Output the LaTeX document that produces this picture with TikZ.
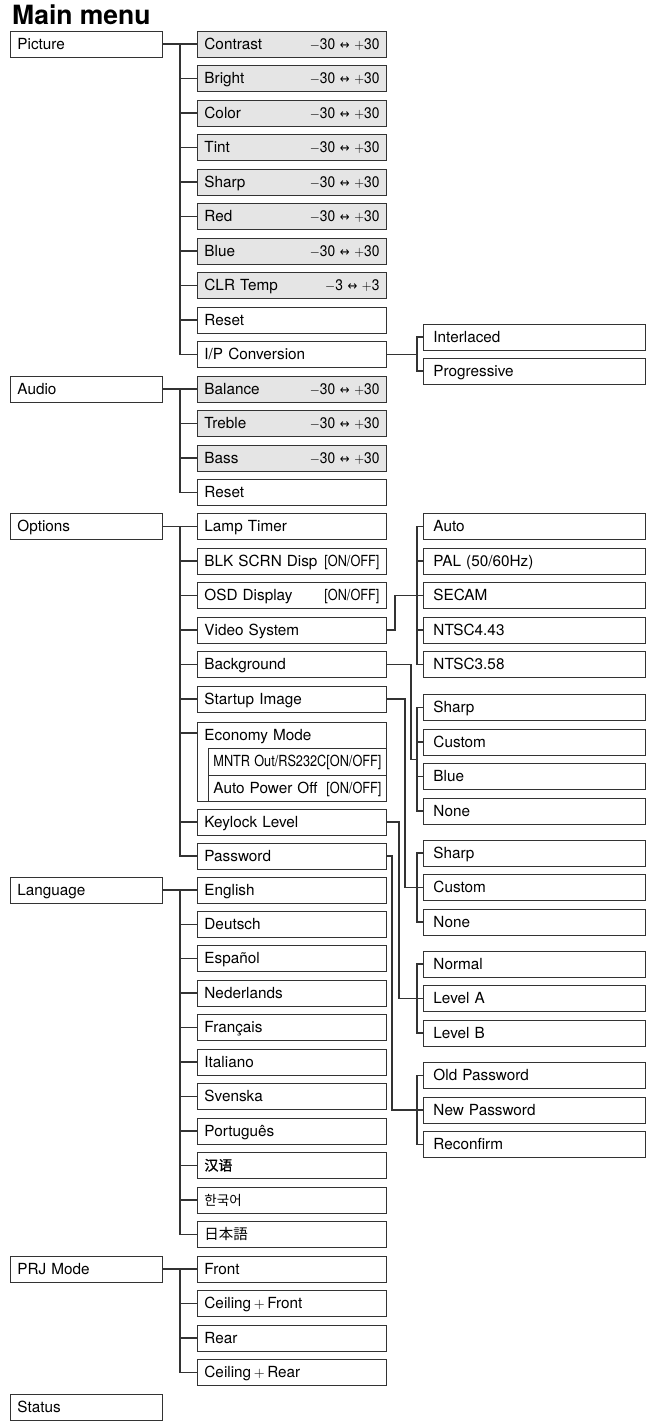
\documentclass[tikz,border=0pt]{standalone}
\usepackage{fontspec}
\setmainfont{TeX Gyre Heros}
\newfontfamily\arrowfont{DejaVu Sans}
\newfontfamily\cjksc[FakeBold=1.2]{Noto Sans CJK SC}
\newfontfamily\cjkkr{Noto Sans CJK KR}
\newfontfamily\cjkjp{Noto Sans CJK JP}
\usepackage{graphicx}
\usepackage{xcolor}
\usetikzlibrary{calc, positioning}

\definecolor{boxgray}{gray}{0.9}
\definecolor{linegray}{gray}{0.2}
\newcommand{\rng}[1]{\hfill\scalebox{0.9}[1]{$-$#1 {\arrowfont\fontsize{13}{13}\selectfont ↔} $+$#1}}
\newcommand{\onoff}{\hfill\scalebox{0.83}[1]{[ON/OFF]}}

\tikzset{
    box/.style={draw=linegray, line width=0.9pt, fill=white, anchor=west, minimum height=26pt,
        inner ysep=0pt, text height=11pt, text depth=1pt, align=left, font=\fontsize{15.3}{18}\selectfont},
    topbox/.style={box, text width=138pt, inner xsep=7pt},
    subbox/.style={box, text width=175pt, inner xsep=7pt},
    adjbox/.style={subbox, fill=boxgray},
    optbox/.style={box, text width=202pt, inner xsep=10pt},
    inbox/.style={box, anchor=north west, text width=168pt, inner xsep=5pt, minimum height=26.5pt},
    conn/.style={draw=linegray, line width=1.3pt},
}

\begin{document}
\begin{tikzpicture}[x=1pt, y=-1pt]
    \useasboundingbox (0,0) rectangle (651,1421);

    % 标题
    \node[anchor=base west, inner sep=0pt, font=\fontsize{26.5}{30}\selectfont\bfseries] (title) at (12,25) {Main menu};

    % 主菜单
    \node[topbox] (picture) at (10,44) {Picture};
    \node[topbox] (audio) at (10,389) {Audio};
    \node[topbox] (options) at (10,526.5) {Options};
    \node[topbox] (language) at (10,890) {Language};
    \node[topbox] (prjmode) at (10,1269) {PRJ Mode};
    \node[topbox] (status) at (10,1407) {Status};

    % Picture 子菜单
    \node[adjbox] (contrast) at (197,44) {Contrast\rng{30}};
    \node[adjbox] (bright) at (197,78.5) {Bright\rng{30}};
    \node[adjbox] (color) at (197,113) {Color\rng{30}};
    \node[adjbox] (tint) at (197,147.5) {Tint\rng{30}};
    \node[adjbox] (sharp) at (197,182) {Sharp\rng{30}};
    \node[adjbox] (red) at (197,216.5) {Red\rng{30}};
    \node[adjbox] (blue) at (197,251) {Blue\rng{30}};
    \node[adjbox] (clrtemp) at (197,285.5) {CLR Temp\rng{3}};
    \node[subbox] (preset) at (197,320) {Reset};
    \node[subbox] (ipconv) at (197,354.5) {I/P Conversion};

    % Audio 子菜单
    \node[adjbox] (balance) at (197,389) {Balance\rng{30}};
    \node[adjbox] (treble) at (197,423.5) {Treble\rng{30}};
    \node[adjbox] (bass) at (197,458) {Bass\rng{30}};
    \node[subbox] (areset) at (197,492.5) {Reset};

    % Options 子菜单
    \node[subbox] (lamp) at (197,526.5) {Lamp Timer};
    \node[subbox] (blk) at (197,561) {BLK SCRN Disp\onoff};
    \node[subbox] (osd) at (197,595.5) {OSD Display\onoff};
    \node[subbox] (vsys) at (197,630) {Video System};
    \node[subbox] (bg) at (197,664.5) {Background};
    \node[subbox] (startup) at (197,699) {Startup Image};
    \node[subbox, anchor=north west, text height=18pt, text depth=61pt] (econ) at (197,722) {Economy Mode};
    \node[inbox] (mntr) at (208,748) {\scalebox{0.83}[1]{MNTR Out/RS232C}\onoff};
    \node[inbox] (apo) at (208,774.5) {Auto Power Off\onoff};
    \node[subbox] (keylock) at (197,822) {Keylock Level};
    \node[subbox] (password) at (197,856) {Password};

    % Language 子菜单
    \node[subbox] (english) at (197,890) {English};
    \node[subbox] (deutsch) at (197,924.5) {Deutsch};
    \node[subbox] (espanol) at (197,958.5) {Español};
    \node[subbox] (nederlands) at (197,993) {Nederlands};
    \node[subbox] (francais) at (197,1027.5) {Français};
    \node[subbox] (italiano) at (197,1062) {Italiano};
    \node[subbox] (svenska) at (197,1096.5) {Svenska};
    \node[subbox] (portugues) at (197,1131) {Português};
    \node[subbox] (chinese) at (197,1165.5) {\cjksc\fontsize{14}{14}\selectfont 汉语};
    \node[subbox] (korean) at (197,1200) {\cjkkr\fontsize{13.5}{14}\selectfont 한국어};
    \node[subbox] (japanese) at (197,1234.5) {\cjkjp\fontsize{14.5}{14}\selectfont 日本語};

    % PRJ Mode 子菜单
    \node[subbox] (front) at (197,1269) {Front};
    \node[subbox] (ceilfront) at (197,1303.5) {Ceiling\,$+$\,Front};
    \node[subbox] (rear) at (197,1338) {Rear};
    \node[subbox] (ceilrear) at (197,1372.5) {Ceiling\,$+$\,Rear};

    % 第三层
    \node[optbox] (inter) at (423,337) {Interlaced};
    \node[optbox] (prog) at (423,371) {Progressive};

    \node[optbox] (auto) at (423,526.5) {Auto};
    \node[optbox] (pal) at (423,561) {PAL (50/60Hz)};
    \node[optbox] (secam) at (423,595.5) {SECAM};
    \node[optbox] (ntscA) at (423,630) {NTSC4.43};
    \node[optbox] (ntscB) at (423,664.5) {NTSC3.58};

    \node[optbox] (bsharp) at (423,707.5) {Sharp};
    \node[optbox] (bcustom) at (423,742) {Custom};
    \node[optbox] (bblue) at (423,776.5) {Blue};
    \node[optbox] (bnone) at (423,811) {None};

    \node[optbox] (ssharp) at (423,853) {Sharp};
    \node[optbox] (scustom) at (423,887.5) {Custom};
    \node[optbox] (snone) at (423,922) {None};

    \node[optbox] (normal) at (423,964) {Normal};
    \node[optbox] (levela) at (423,998.5) {Level A};
    \node[optbox] (levelb) at (423,1033) {Level B};

    \node[optbox] (oldpw) at (423,1075.5) {Old Password};
    \node[optbox] (newpw) at (423,1110) {New Password};
    \node[optbox] (reconfirm) at (423,1144.5) {Reconfirm};

    % 连线: 主菜单 -> 子菜单
    \draw[conn] (picture.east) -- (contrast.west);
    \draw[conn] ([xshift=-17pt]contrast.west) |- (ipconv.west);
    \foreach \n in {bright,color,tint,sharp,red,blue,clrtemp,preset}
        \draw[conn] (\n.west) -- ++(-17pt,0);

    \draw[conn] (audio.east) -- (balance.west);
    \draw[conn] ([xshift=-17pt]balance.west) |- (areset.west);
    \foreach \n in {treble,bass}
        \draw[conn] (\n.west) -- ++(-17pt,0);

    \draw[conn] (options.east) -- (lamp.west);
    \draw[conn] ([xshift=-17pt]lamp.west) |- (password.west);
    \foreach \n in {blk,osd,vsys,bg,startup,keylock}
        \draw[conn] (\n.west) -- ++(-17pt,0);
    \draw[conn] ([yshift=-11pt]econ.north west) -- ++(-17pt,0);

    \draw[conn] (language.east) -- (english.west);
    \draw[conn] ([xshift=-17pt]english.west) |- (japanese.west);
    \foreach \n in {deutsch,espanol,nederlands,francais,italiano,svenska,portugues,chinese,korean}
        \draw[conn] (\n.west) -- ++(-17pt,0);

    \draw[conn] (prjmode.east) -- (front.west);
    \draw[conn] ([xshift=-17pt]front.west) |- (ceilrear.west);
    \foreach \n in {ceilfront,rear}
        \draw[conn] (\n.west) -- ++(-17pt,0);

    % 连线: 子菜单 -> 第三层
    \draw[conn] (inter.west) -- ++(-6pt,0) |- (prog.west);
    \coordinate (ipjoin) at ($(inter.west)!0.5!(prog.west)+(-6pt,0)$);
    \draw[conn] (ipconv.east) -- (ipconv.east -| ipjoin);

    \draw[conn] (auto.west) -- ++(-6pt,0) |- (ntscB.west);
    \foreach \n in {pal,secam,ntscA}
        \draw[conn] (\n.west) -- ++(-6pt,0);
    \draw[conn] (vsys.east) -- ++(8pt,0) |- (secam.west);

    \draw[conn] (bsharp.west) -- ++(-6pt,0) |- (bnone.west);
    \foreach \n in {bcustom,bblue}
        \draw[conn] (\n.west) -- ++(-6pt,0);
    \coordinate (bgjoin) at ($(bcustom.west)!0.5!(bblue.west)+(-6pt,0)$);
    \draw[conn] (bg.east) -- ++(24pt,0) |- (bgjoin);

    \draw[conn] (ssharp.west) -- ++(-6pt,0) |- (snone.west);
    \draw[conn] (startup.east) -- ++(18pt,0) |- (scustom.west);

    \draw[conn] (normal.west) -- ++(-6pt,0) |- (levelb.west);
    \draw[conn] (keylock.east) -- ++(12pt,0) |- (levela.west);

    \draw[conn] (oldpw.west) -- ++(-6pt,0) |- (reconfirm.west);
    \draw[conn] (password.east) -- ++(5pt,0) |- (newpw.west);
\end{tikzpicture}
\end{document}
